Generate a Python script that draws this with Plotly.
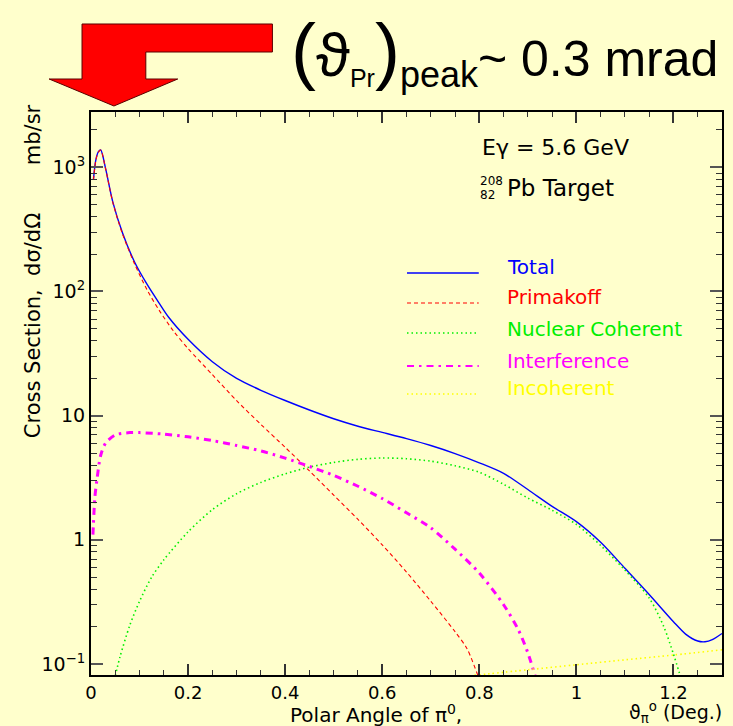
import math
import plotly.graph_objects as go

# ---------------- data ----------------
x_total = [0.005, 0.01, 0.015, 0.02, 0.03, 0.045, 0.065, 0.09, 0.115, 0.14, 0.16, 0.2, 0.25,
           0.3, 0.35, 0.4, 0.45, 0.5, 0.55, 0.6, 0.65, 0.7, 0.75, 0.8, 0.85, 0.9, 0.95,
           1.0, 1.05, 1.1, 1.15, 1.2, 1.225, 1.25, 1.265, 1.28, 1.3]
y_total = [800, 1150, 1330, 1380, 980, 525, 296, 172, 115, 81, 62, 41.2, 27.2,
           19.95, 16.0, 13.24, 11.1, 9.44, 8.22, 7.33, 6.53, 5.75, 4.95, 4.17, 3.43, 2.54, 1.86,
           1.4, 0.955, 0.59, 0.363, 0.219, 0.174, 0.153, 0.151, 0.157, 0.176]

x_prim = [0.005, 0.01, 0.015, 0.02, 0.03, 0.045, 0.065, 0.09, 0.115, 0.14, 0.17, 0.2, 0.25,
          0.3, 0.35, 0.4, 0.45, 0.5, 0.55, 0.6, 0.65, 0.7, 0.75, 0.775, 0.797, 0.81]
y_prim = [790, 1140, 1320, 1375, 975, 520, 290, 166, 104, 71, 48, 34.7, 21.4,
          13.2, 8.5, 5.56, 3.59, 2.29, 1.46, 0.91, 0.55, 0.32, 0.182, 0.132, 0.081, 0.06]

x_coh = [0.05, 0.06, 0.08, 0.1, 0.125, 0.15, 0.2, 0.25, 0.3, 0.35, 0.4, 0.45, 0.5, 0.55,
         0.6, 0.65, 0.7, 0.75, 0.8, 0.85, 0.9, 0.95, 1.0, 1.05, 1.1, 1.15, 1.18, 1.2, 1.215]
y_coh = [0.08, 0.115, 0.205, 0.32, 0.5, 0.69, 1.16, 1.75, 2.35, 2.9, 3.4, 3.85, 4.2, 4.45,
         4.56, 4.5, 4.3, 3.95, 3.5, 2.8, 2.17, 1.73, 1.33, 0.9, 0.57, 0.34, 0.2, 0.12, 0.078]

x_int = [0.004, 0.008, 0.012, 0.02, 0.03, 0.05, 0.08, 0.1, 0.15, 0.2, 0.25, 0.3, 0.35,
         0.4, 0.45, 0.5, 0.55, 0.6, 0.65, 0.7, 0.75, 0.8, 0.85, 0.88, 0.9, 0.915]
y_int = [1.1, 2.2, 3.0, 4.8, 6.0, 7.0, 7.3, 7.3, 7.1, 6.75, 6.3, 5.75, 5.2,
         4.55, 3.9, 3.3, 2.7, 2.15, 1.65, 1.25, 0.84, 0.54, 0.30, 0.19, 0.123, 0.08]

x_incoh = [0.79, 0.9, 1.0, 1.1, 1.2, 1.3]
y_incoh = [0.081, 0.0898, 0.0985, 0.108, 0.118, 0.13]

series_names = ["Total", "Primakoff", "Nuclear Coherent", "Interference", "Incoherent"]
x_ticks = [0, 0.2, 0.4, 0.6, 0.8, 1, 1.2]
y_tickvals = [0.1, 1, 10, 100, 1000]
y_ticktext = ["10<sup>−1</sup>", "1", "10", "10<sup>2</sup>", "10<sup>3</sup>"]
y_minor = [v * 10 ** e for e in range(-1, 4) for v in range(2, 10) if v * 10 ** e < 2790]

# ---------------- styling ----------------
BG = "#FFFFCC"
FONT = "DejaVu Sans"
W, H = 733, 726
L, R, T, B = 91, 9, 112, 51
PW, PH = W - L - R, H - T - B

def px(xp):
    return (xp - L) / PW

def py(yp):
    return (H - B - yp) / PH

styles = {
    "Total": dict(color="#0000FF", width=1.4, dash="solid"),
    "Primakoff": dict(color="#FF0000", width=1.1, dash="4px,3px"),
    "Nuclear Coherent": dict(color="#00EE00", width=1.6, dash="1.5px,3px"),
    "Interference": dict(color="#FF00FF", width=3, dash="7px,5px,2.5px,5px"),
    "Incoherent": dict(color="#FFFF00", width=1.6, dash="1.5px,3px"),
}
data = {
    "Total": (x_total, y_total),
    "Primakoff": (x_prim, y_prim),
    "Nuclear Coherent": (x_coh, y_coh),
    "Interference": (x_int, y_int),
    "Incoherent": (x_incoh, y_incoh),
}

fig = go.Figure()
for name in series_names:
    xs, ys = data[name]
    st = styles[name]
    fig.add_trace(go.Scatter(
        x=xs, y=ys, mode="lines", name=name, showlegend=False,
        line=dict(color=st["color"], width=st["width"], dash=st["dash"],
                  shape="spline", smoothing=0.8)))

shapes = []
annotations = []

def note(x, y, text, size, color="black", xanchor="left", family=FONT, angle=0):
    annotations.append(dict(xref="paper", yref="paper", x=px(x), y=py(y),
                            xanchor=xanchor, yanchor="middle", showarrow=False,
                            textangle=angle, text=text,
                            font=dict(family=family, size=size, color=color)))

# legend (drawn inside the frame like the original)
leg_line_y = [273, 303, 333, 366, 394]
leg_text_y = [267, 297, 329, 361, 388]
for name, ly, ty in zip(series_names, leg_line_y, leg_text_y):
    st = styles[name]
    shapes.append(dict(type="line", xref="paper", yref="paper",
                       x0=px(408), x1=px(480), y0=py(ly), y1=py(ly),
                       line=dict(color=st["color"], width=min(st["width"], 2.2), dash=st["dash"])))
    note(506, ty, name, 20, st["color"])

# info texts
note(481, 147, "Eγ = 5.6 GeV", 22)
note(493, 181, "208", 12, xanchor="center")
note(489, 195, "82", 12, xanchor="center")
note(506, 188, "Pb Target", 23)

# axis titles
note(33, 326, "Cross Section,  dσ/dΩ", 21, xanchor="center", angle=-90)
note(33, 135, "mb/sr", 21, xanchor="center", angle=-90)
note(377, 714, "Polar Angle of π<sup>0</sup>,", 20, xanchor="center")
note(726, 712, "ϑ<sub>π</sub><sup>o</sup> (Deg.)", 19, xanchor="right")

# headline
note(722, 52,
     "<span style='font-size:75px'>(</span><span style='font-size:62px'>ϑ</span>"
     "<sub><span style='font-size:25px'>Pr</span></sub>"
     "<span style='font-size:75px'>)</span><sub><span style='font-size:36px'>peak</span></sub>"
     "~ 0.3 mrad",
     50, xanchor="right", family="Liberation Sans")

# red arrow
arrow_pts = [(82, 24), (273, 24), (273, 52), (146, 52), (146, 79), (178, 79),
             (114, 106), (49, 79), (82, 79)]
path = "M " + " L ".join(f"{px(a):.5f},{py(b):.5f}" for a, b in arrow_pts) + " Z"
shapes.append(dict(type="path", xref="paper", yref="paper", path=path,
                   fillcolor="#FF0000", line=dict(color="#5a0000", width=1)))

fig.update_layout(
    width=W, height=H,
    margin=dict(l=L, r=R, t=T, b=B, pad=0),
    paper_bgcolor=BG, plot_bgcolor=BG,
    showlegend=False,
    shapes=shapes, annotations=annotations,
    font=dict(family=FONT, size=18, color="black"),
    xaxis=dict(range=[0, 1.3], tickvals=x_ticks, showgrid=False, zeroline=False,
               showline=True, linecolor="black", linewidth=2, mirror="allticks",
               ticks="inside", ticklen=11, tickwidth=1.5, tickcolor="#333",
               tickfont=dict(family=FONT, size=18, color="black"),
               minor=dict(ticks="inside", ticklen=5, tickwidth=1.2, tickcolor="#333",
                          dtick=0.05, tick0=0, showgrid=False)),
    yaxis=dict(type="log", range=[math.log10(0.0815), math.log10(2790)],
               tickvals=y_tickvals, ticktext=y_ticktext, showgrid=False, zeroline=False,
               showline=True, linecolor="black", linewidth=2, mirror="allticks",
               ticks="inside", ticklen=12, tickwidth=1.5, tickcolor="#555",
               tickfont=dict(family=FONT, size=19, color="black"),
               minor=dict(ticks="inside", ticklen=6, tickwidth=1.2, tickcolor="#333",
                          tickvals=y_minor, showgrid=False)),
)

fig.write_html("out.html", config={"displayModeBar": False},
               post_script="document.body.style.margin='0';document.body.style.overflow='hidden';")
